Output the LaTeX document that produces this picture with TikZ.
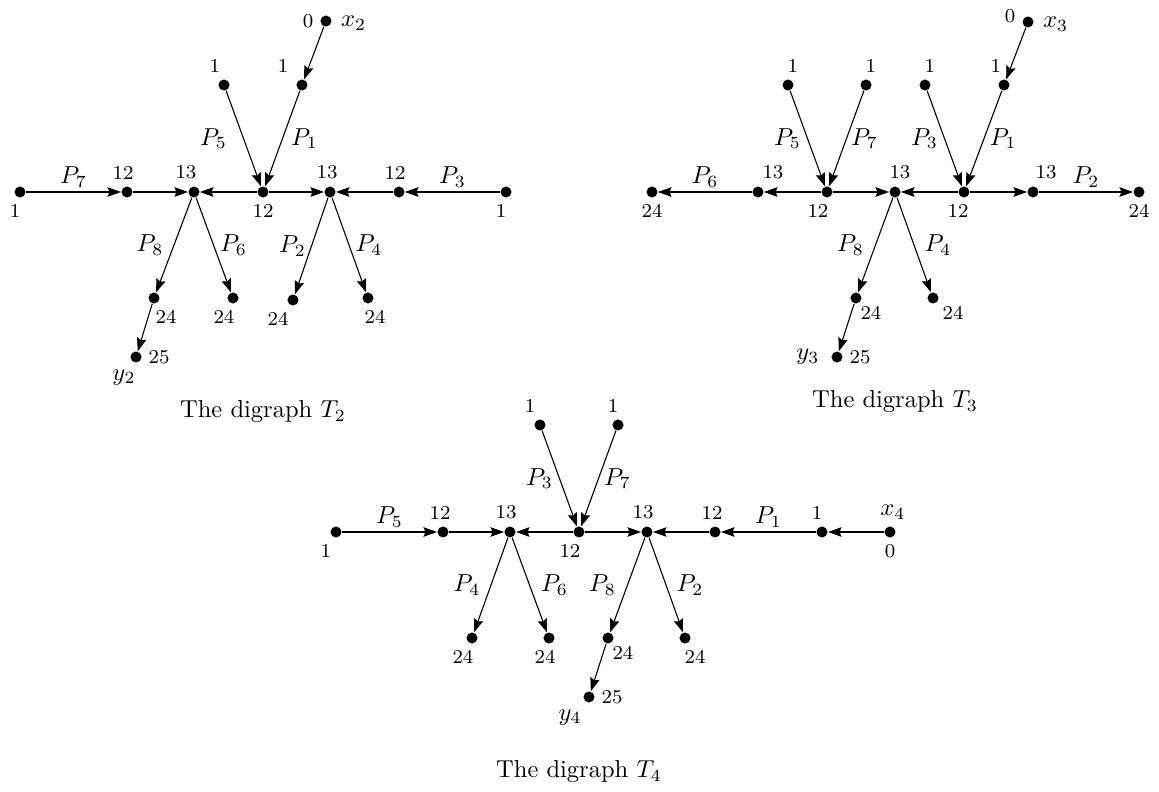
\documentclass[tikz,border=0pt]{standalone}
\usetikzlibrary{arrows.meta}
\begin{document}
\begin{tikzpicture}[x=0.408pt,y=-0.408pt,
  dot/.style={circle,fill=black,inner sep=0pt,minimum size=4.5pt},
  arr/.style={line width=0.45pt,-{Stealth[length=5.5pt,width=3.9pt,inset=0.8pt]}},
  lab/.style={font=\footnotesize,inner sep=1pt},
  mlab/.style={inner sep=1pt},
  plab/.style={inner sep=0pt},
  hlab/.style={inner sep=0pt,yshift=6.1pt},
  label distance=1.5pt]
\useasboundingbox (0,0) rectangle (1159,792);

% ---------------- T2 ----------------
\node[dot,label={[lab,xshift=-2pt]below:1}] (a1) at (20,192) {};
\node[dot,label={[lab,xshift=-1.6pt]above:12}] (a2) at (127,192) {};
\node[dot,label={[lab,xshift=-3.3pt]above:13}] (a3) at (194,192) {};
\node[dot,label={[lab]below:12}] (a4) at (263,192) {};
\node[dot,label={[lab,xshift=-1.2pt]above:13}] (a5) at (330,192) {};
\node[dot,label={[lab,xshift=-1.6pt]above:12}] (a6) at (399,192) {};
\node[dot,label={[lab,xshift=-2pt]below:1}] (a7) at (506,192) {};
\node[dot,label={[lab,xshift=-3.7pt]above:1}] (a8) at (224,85) {};
\node[dot,label={[lab,xshift=-7.75pt]above:1}] (a9) at (302,85) {};
\node[dot,label={[lab]left:0},label={[mlab,xshift=1pt,yshift=-1pt]right:$x_2$}] (a10) at (326,21) {};
\node[dot,label={[lab,xshift=4.9pt]below:24}] (a11) at (154,298) {};
\node[dot,label={[lab,xshift=-3.7pt]below:24}] (a12) at (233,298) {};
\node[dot,label={[lab,xshift=-6.1pt]below:24}] (a13) at (293,300) {};
\node[dot,label={[lab,xshift=2.9pt]below:24}] (a14) at (368,298) {};
\node[dot,label={[lab]right:25},label={[mlab,xshift=-4.9pt]below:$y_2$}] (a15) at (136,357) {};

\draw[arr] (a1) -- node[hlab]{$P_7$} (a2);
\draw[arr] (a2) -- (a3);
\draw[arr] (a4) -- (a3);
\draw[arr] (a4) -- (a5);
\draw[arr] (a6) -- (a5);
\draw[arr] (a7) -- node[hlab]{$P_3$} (a6);
\draw[arr] (a8) -- node[plab,xshift=-12.2pt]{$P_5$} (a4);
\draw[arr] (a9) -- node[plab,xshift=9pt]{$P_1$} (a4);
\draw[arr] (a10) -- (a9);
\draw[arr] (a3) -- node[plab,xshift=-9.8pt]{$P_8$} (a11);
\draw[arr] (a3) -- node[plab,xshift=8.2pt]{$P_6$} (a12);
\draw[arr] (a5) -- node[plab,xshift=-7.8pt]{$P_2$} (a13);
\draw[arr] (a5) -- node[plab,xshift=8.2pt]{$P_4$} (a14);
\draw[arr] (a11) -- (a15);

\node (capA) at (263,412) {The digraph $T_2$};

% ---------------- T3 ----------------
\node[dot,label={[lab]below:24}] (b1) at (652,192) {};
\node[dot,label={[lab,xshift=6.1pt]above:13}] (b2) at (758,192) {};
\node[dot,label={[lab,xshift=-3.7pt]below:12}] (b3) at (827,192) {};
\node[dot,label={[lab,xshift=2pt]above:13}] (b4) at (895,192) {};
\node[dot,label={[lab,xshift=-2.4pt]below:12}] (b5) at (964,192) {};
\node[dot,label={[lab,xshift=5.3pt]above:13}] (b6) at (1033,192) {};
\node[dot,label={[lab]below:24}] (b7) at (1139,192) {};
\node[dot,label={[lab,xshift=2pt]above:1}] (b8) at (788,85) {};
\node[dot,label={[lab,xshift=2pt]above:1}] (b9) at (866,85) {};
\node[dot,label={[lab,xshift=2pt]above:1}] (b10) at (925,85) {};
\node[dot,label={[lab,xshift=-3.3pt]above:1}] (b11) at (1004,85) {};
\node[dot,label={[lab,yshift=2.4pt]left:0},label={[mlab,xshift=1pt,yshift=-1pt]right:$x_3$}] (b12) at (1028,22) {};
\node[dot,label={[lab,xshift=6.1pt,yshift=1.6pt]below:24}] (b13) at (856,298) {};
\node[dot,label={[lab,xshift=8.2pt,yshift=1.6pt]below:24}] (b14) at (933,298) {};
\node[dot,label={[lab]right:25},label={[mlab,xshift=-2pt]left:$y_3$}] (b15) at (837,357) {};

\draw[arr] (b3) -- (b2);
\draw[arr] (b2) -- node[hlab]{$P_6$} (b1);
\draw[arr] (b3) -- (b4);
\draw[arr] (b5) -- (b4);
\draw[arr] (b5) -- (b6);
\draw[arr] (b6) -- node[hlab]{$P_2$} (b7);
\draw[arr] (b8) -- node[plab,xshift=-8.2pt]{$P_5$} (b3);
\draw[arr] (b9) -- node[plab,xshift=7.3pt]{$P_7$} (b3);
\draw[arr] (b10) -- node[plab,xshift=-8.2pt]{$P_3$} (b5);
\draw[arr] (b11) -- node[plab,xshift=7.8pt]{$P_1$} (b5);
\draw[arr] (b12) -- (b11);
\draw[arr] (b4) -- node[plab,xshift=-10.2pt]{$P_8$} (b13);
\draw[arr] (b4) -- node[plab,xshift=9.8pt]{$P_4$} (b14);
\draw[arr] (b13) -- (b15);

\node (capB) at (895,402) {The digraph $T_3$};

% ---------------- T4 ----------------
\node[dot,label={[lab,xshift=-4.1pt]below:1}] (c1) at (336,532) {};
\node[dot,label={[lab,xshift=-1.2pt]above:12}] (c2) at (443,532) {};
\node[dot,label={[lab,xshift=-1.6pt]above:13}] (c3) at (510,532) {};
\node[dot,label={[lab,xshift=-3.7pt]below:12}] (c4) at (579,532) {};
\node[dot,label={[lab,xshift=-1.6pt]above:13}] (c5) at (647,532) {};
\node[dot,label={[lab,xshift=-1.2pt]above:12}] (c6) at (715,532) {};
\node[dot,label={[lab,xshift=-2pt]above:1}] (c7) at (822,532) {};
\node[dot,label={[mlab,xshift=1.2pt]above:$x_4$},label={[lab]below:0}] (c8) at (890,532) {};
\node[dot,label={[lab,xshift=-4.1pt]above:1}] (c9) at (540,425) {};
\node[dot,label={[lab,xshift=-2pt]above:1}] (c10) at (618,425) {};
\node[dot,label={[lab,xshift=-3.7pt]below:24}] (c11) at (472,638) {};
\node[dot,label={[lab,xshift=-1.6pt]below:24}] (c12) at (549,638) {};
\node[dot,label={[lab,xshift=6.1pt,yshift=1.6pt]below:24}] (c13) at (608,638) {};
\node[dot,label={[lab,xshift=4.1pt]below:24}] (c14) at (685,638) {};
\node[dot,label={[lab]right:25},label={[mlab,xshift=-7.75pt]below:$y_4$}] (c15) at (589,697) {};

\draw[arr] (c1) -- node[hlab]{$P_5$} (c2);
\draw[arr] (c2) -- (c3);
\draw[arr] (c4) -- (c3);
\draw[arr] (c4) -- (c5);
\draw[arr] (c6) -- (c5);
\draw[arr] (c7) -- node[hlab]{$P_1$} (c6);
\draw[arr] (c8) -- (c7);
\draw[arr] (c9) -- node[plab,xshift=-8.2pt]{$P_3$} (c4);
\draw[arr] (c10) -- node[plab,xshift=7.75pt]{$P_7$} (c4);
\draw[arr] (c3) -- node[plab,xshift=-9.8pt]{$P_4$} (c11);
\draw[arr] (c3) -- node[plab,xshift=10.2pt]{$P_6$} (c12);
\draw[arr] (c5) -- node[plab,xshift=-10.2pt]{$P_8$} (c13);
\draw[arr] (c5) -- node[plab,xshift=9.8pt]{$P_2$} (c14);
\draw[arr] (c13) -- (c15);

\node (capC) at (579,772) {The digraph $T_4$};
\end{tikzpicture}
\end{document}
